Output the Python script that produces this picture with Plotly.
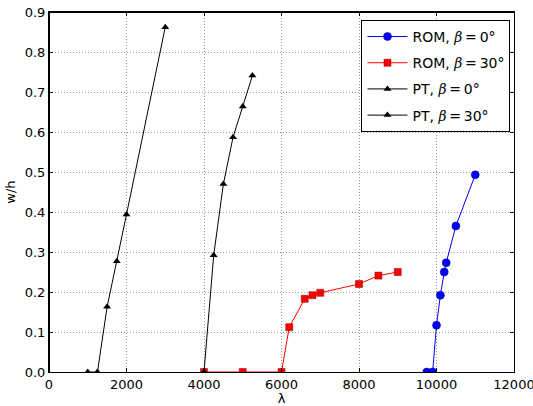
import plotly.graph_objects as go

rom0_x = [9750, 9900, 10000, 10100, 10200, 10250, 10500, 11000]
rom0_y = [0.0, 0.0, 0.117, 0.192, 0.250, 0.273, 0.365, 0.493]

rom30_x = [4000, 5000, 6000, 6200, 6600, 6800, 7000, 8000, 8500, 9000]
rom30_y = [0.0, 0.0, 0.0, 0.112, 0.183, 0.192, 0.198, 0.220, 0.241, 0.250]

pt0_x = [1000, 1250, 1500, 1750, 2000, 3000]
pt0_y = [0.0, 0.0, 0.163, 0.277, 0.394, 0.862]

pt30_x = [4000, 4250, 4500, 4750, 5000, 5250]
pt30_y = [0.0, 0.292, 0.470, 0.587, 0.664, 0.741]

x_ticks = [0, 2000, 4000, 6000, 8000, 10000, 12000]
y_ticks = [0.0, 0.1, 0.2, 0.3, 0.4, 0.5, 0.6, 0.7, 0.8, 0.9]

X_RANGE = [x_ticks[0], x_ticks[-1]]
Y_RANGE = [y_ticks[0], y_ticks[-1]]

W, H = 533, 406
M = dict(l=49, r=19, t=12, b=34)

FONT = "DejaVu Sans"
BETA = "<span style='font-family:DejaVu Serif'><i>β</i></span>"


def label(name, deg):
    return f"{name}, {BETA}\u2009=\u2009{deg}°"


fig = go.Figure()
fig.add_trace(go.Scatter(x=rom0_x, y=rom0_y, mode="lines+markers",
                         name=label("ROM", 0), legendgroup="a",
                         line=dict(color="#0000ff", width=1),
                         marker=dict(symbol="circle", size=8, color="#0000ff",
                                     line=dict(color="#000080", width=0.5))))
fig.add_trace(go.Scatter(x=rom30_x, y=rom30_y, mode="lines+markers",
                         name=label("ROM", 30), legendgroup="b",
                         line=dict(color="#ff0000", width=1),
                         marker=dict(symbol="square", size=7, color="#ff0000",
                                     line=dict(color="#800000", width=0.5))))
fig.add_trace(go.Scatter(x=pt0_x, y=pt0_y, mode="lines+markers",
                         name=label("PT", 0), legendgroup="c",
                         line=dict(color="black", width=1),
                         marker=dict(symbol="triangle-up", size=7, color="black")))
fig.add_trace(go.Scatter(x=pt30_x, y=pt30_y, mode="lines+markers",
                         name=label("PT", 30), legendgroup="d",
                         line=dict(color="black", width=1),
                         marker=dict(symbol="triangle-up", size=7, color="black")))

axis_common = dict(showline=True, linecolor="black", linewidth=1, mirror="allticks",
                   ticks="inside", ticklen=4, tickcolor="black", automargin=False,
                   ticklabeloverflow="allow",
                   showgrid=True, gridcolor="#999999", griddash="1px,2px", gridwidth=1,
                   zeroline=False, tickfont=dict(family=FONT, size=13, color="black"))

fig.update_xaxes(range=X_RANGE, tickvals=x_ticks,
                 ticktext=[str(v) for v in x_ticks],
                 title=dict(text="λ", font=dict(family=FONT, size=13, color="black"),
                            standoff=4),
                 **axis_common)
fig.update_yaxes(range=Y_RANGE, tickvals=y_ticks,
                 ticktext=[f"{v:.1f}" for v in y_ticks],
                 title=dict(text="w/h", font=dict(family=FONT, size=13, color="black"),
                            standoff=6),
                 **axis_common)

# axes box drawn as an empty bordered annotation covering the plot area
plot_w = W - M["l"] - M["r"]
plot_h = H - M["t"] - M["b"]
fig.add_annotation(xref="paper", yref="paper", x=0.5, y=0.5,
                   xanchor="center", yanchor="middle", showarrow=False,
                   text=" ", width=plot_w - 1, height=plot_h - 1,
                   borderpad=0, borderwidth=1, bordercolor="black",
                   bgcolor="rgba(0,0,0,0)")

fig.update_layout(
    width=W, height=H,
    margin=M,
    paper_bgcolor="white", plot_bgcolor="white",
    font=dict(family=FONT, size=13, color="black"),
    showlegend=True,
    legend=dict(x=0.672, y=0.978, xanchor="left", yanchor="top",
                bgcolor="white", bordercolor="black", borderwidth=1,
                font=dict(family=FONT, size=14, color="black"),
                itemwidth=40, tracegroupgap=5),
)

fig.write_html("out.html", config={"displayModeBar": False},
               post_script="document.body.style.margin='0';document.body.style.overflow='hidden';")
